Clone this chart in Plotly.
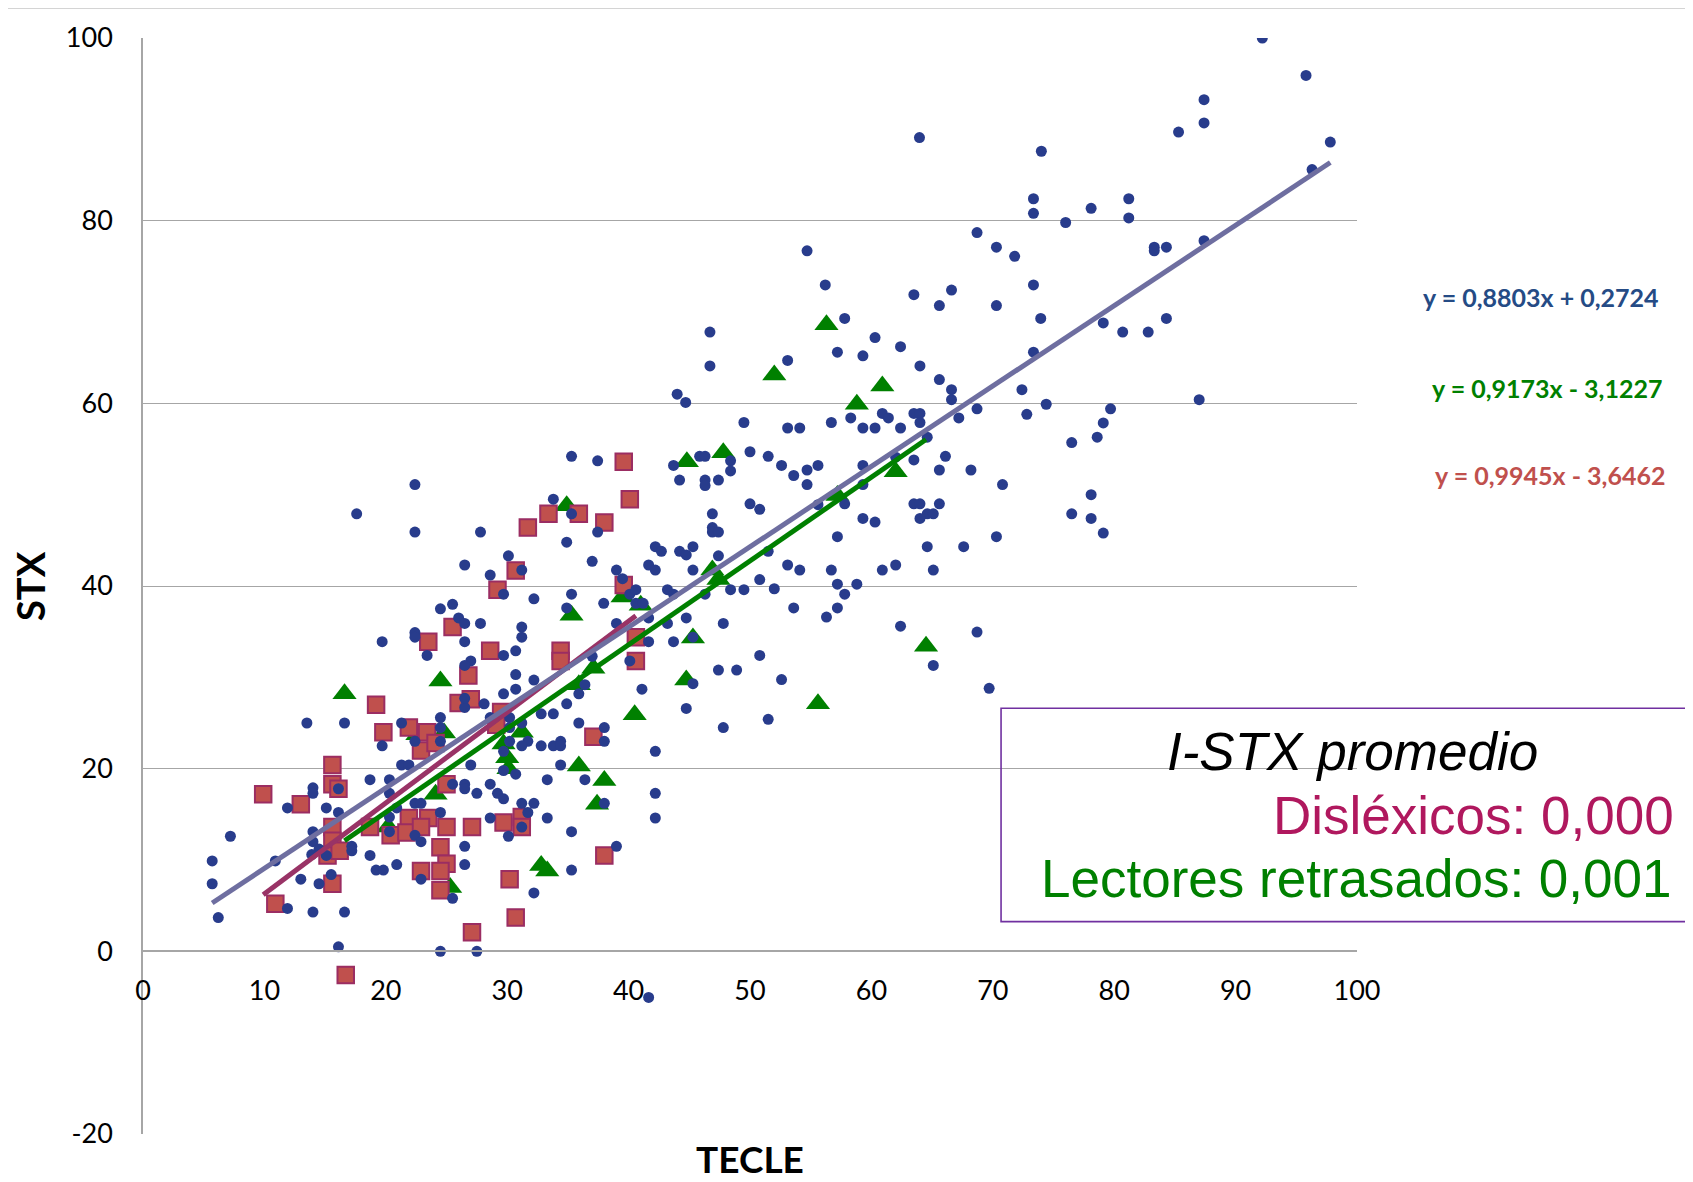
import plotly.graph_objects as go

# ---------------- data ----------------
blue_x = [13.5,16.6,21.3,24.5,26.5,24.5,19.7,22.4,24.5,21.3,21.9,27.0,18.7,20.3,14.0,14.0,16.1,20.3,25.5,26.5,26.5,27.5,11.9,15.1,16.1,22.4,22.9,20.9,20.3,24.5,7.2,14.0,14.0,20.3,22.4,22.9,14.5,17.2,17.2,13.9,15.1,18.7,26.5,5.7,10.9,19.2,19.8,20.9,26.5,5.7,13.0,14.5,15.5,22.9,25.5,6.2,11.9,14.0,16.6,16.1,24.5,27.5,
          28.1,34.9,44.75,28.6,30.2,32.8,33.8,35.9,38.0,47.8,31.2,30.2,30.2,31.7,31.2,32.8,33.8,34.4,34.4,38.0,29.7,42.2,34.4,29.7,30.7,33.3,36.4,28.6,29.2,29.7,31.2,32.2,31.7,38.0,42.2,42.2,28.6,33.3,31.2,30.1,35.3,39.0,35.3,32.2,41.65,
          22.4,17.6,22.4,27.8,26.5,24.5,25.5,26.0,26.5,27.8,19.7,22.4,22.4,26.5,23.4,27.0,26.5,26.5,
          35.3,37.45,43.7,45.85,46.3,48.4,48.4,50.0,49.5,44.2,46.3,46.3,47.4,33.8,35.3,50.0,50.8,46.9,46.9,46.9,47.4,37.45,34.9,42.2,42.7,44.2,44.75,45.3,47.4,30.1,37.0,41.65,42.2,39.0,45.3,39.5,28.6,31.2,29.7,32.2,35.3,34.9,37.95,40.1,40.6,40.6,41.2,43.2,43.7,46.3,48.4,49.5,50.8,31.2,31.2,39.0,41.65,43.2,44.75,47.8,41.65,43.7,45.3,29.7,30.7,37.0,40.1,50.8,30.7,30.7,32.2,29.7,36.4,35.9,41.1,47.4,48.9,45.3,
          46.7,46.7,44.0,44.7,
          57.8,65.6,70.3,73.95,60.3,62.4,57.2,59.3,53.1,64.0,65.6,66.6,66.6,73.35,72.4,74.4,68.7,72.8,67.2,60.9,61.4,63.5,64.0,64.0,58.3,56.7,53.1,54.1,59.3,60.3,62.4,64.6,51.5,52.6,53.6,54.7,55.6,54.7,59.3,59.3,62.0,63.5,66.1,65.6,68.2,70.8,55.6,57.8,63.5,64.0,65.6,64.6,65.1,64.0,59.3,60.3,57.2,64.6,67.6,70.3,51.5,53.1,54.1,56.7,60.9,62.0,65.1,52.0,57.2,58.8,57.8,53.6,57.2,56.3,62.4,68.7,65.1,52.6,69.7,51.5,
          92.2,95.8,87.4,87.4,85.3,97.8,96.3,74.0,81.2,81.2,78.1,76.0,83.3,83.3,84.3,87.4,79.1,80.7,82.8,84.3,87.0,79.7,79.1,78.6,76.5,78.1,76.5,78.1,79.1,
          63.96,73.35,73.35,68.7,70.3,71.8,54.7,56.2,63.5,66.6,73.35]
blue_y = [25.0,25.0,25.0,25.6,26.7,24.5,22.5,23.0,23.0,20.4,20.4,20.4,18.8,18.8,17.9,17.3,17.8,17.3,18.3,18.3,17.8,17.3,15.7,15.7,15.2,16.2,16.2,15.7,14.7,15.2,12.6,13.1,12.0,13.1,12.7,12.0,11.2,11.5,11.0,10.6,10.5,10.5,11.5,9.9,9.9,8.9,8.9,9.5,9.5,7.4,7.9,7.4,8.4,7.9,5.8,3.7,4.7,4.3,4.3,0.5,0.0,0.0,
          27.1,27.1,26.6,25.6,25.6,26.0,26.0,25.0,24.5,24.5,25.0,24.5,23.0,23.0,22.5,22.5,22.5,23.0,22.5,23.0,21.9,21.9,20.4,19.8,19.4,18.8,18.8,18.3,17.3,16.7,16.2,16.2,15.2,16.2,17.3,14.6,14.6,14.6,13.6,12.6,13.1,11.5,8.9,6.4,-5.05,
          51.1,47.9,45.9,45.9,42.3,37.5,38.0,36.5,35.9,35.9,33.9,34.9,34.4,33.9,32.4,31.8,31.3,27.7,
          54.2,53.7,53.2,54.2,54.2,53.7,52.6,54.7,57.9,51.6,51.6,51.0,51.6,49.5,47.9,49.0,48.4,47.9,46.4,45.9,45.9,45.9,44.8,44.3,43.8,43.8,43.4,44.3,43.3,43.3,42.7,42.3,41.75,41.75,41.75,40.8,41.2,41.75,39.1,38.6,39.1,37.6,38.1,39.1,39.6,38.1,38.1,39.6,39.1,39.1,39.6,39.6,40.7,35.5,34.4,35.9,36.5,35.9,36.5,35.9,33.9,33.9,34.4,32.4,32.9,32.3,31.8,32.4,30.3,28.7,29.7,28.2,29.2,28.2,28.7,30.8,30.8,29.3,
          67.8,64.1,61.0,60.1,
          69.3,70.7,70.7,69.3,67.2,66.2,65.6,65.2,64.7,64.1,62.6,61.5,60.4,65.6,61.5,59.9,59.4,58.8,58.4,58.9,58.4,58.9,58.9,57.9,58.4,57.9,57.3,57.3,57.3,57.3,57.3,56.3,54.2,53.2,52.1,52.7,53.2,51.1,53.2,51.1,54.1,53.8,54.2,52.7,52.7,51.1,48.9,49.0,49.0,49.0,49.0,47.9,47.9,47.4,47.4,47.0,45.4,44.3,44.3,45.4,43.8,42.3,41.75,41.75,41.75,42.3,41.75,39.7,40.2,40.2,39.1,37.6,37.6,36.6,35.6,34.95,31.3,29.75,28.8,25.4,
          100.0,95.9,93.25,90.7,89.7,88.6,85.6,87.6,82.4,80.3,81.35,79.8,77.1,76.7,77.1,77.8,68.8,67.8,67.8,69.3,60.4,59.4,57.85,56.3,55.7,50.0,47.9,47.4,45.8,
          89.1,82.4,80.8,78.7,77.1,76.1,76.7,72.96,71.9,72.4,72.96]

red_x = [19.2,19.8,21.9,23.4,22.9,24.1,15.6,15.6,16.1,9.9,13.0,25.0,21.9,23.5,18.7,20.4,21.7,22.9,25.0,27.1,15.6,15.6,15.2,16.2,24.5,25.0,22.9,24.5,15.6,24.5,10.9,27.1,16.7,
         25.5,23.5,26.8,27.0,26.0,
         29.5,29.1,37.1,29.7,31.2,31.2,38.0,30.2,30.7,
         39.6,40.1,33.4,35.9,31.7,38.0,30.7,29.2,39.6,28.6,34.4,34.4,40.6,40.6]
red_y = [27.0,24.0,24.5,24.0,22.0,22.8,20.4,18.3,17.8,17.2,16.1,18.3,14.6,14.6,13.6,12.7,13.0,13.6,13.6,13.6,13.6,12.1,10.5,11.0,11.4,9.6,8.8,8.8,7.4,6.7,5.2,2.1,-2.6,
         35.5,33.9,30.2,27.6,27.2,
         26.2,24.8,23.5,14.1,14.7,13.6,10.5,7.9,3.7,
         53.6,49.5,47.9,47.9,46.4,46.95,41.7,39.6,40.1,32.9,32.9,31.8,34.4,31.8]

green_x = [16.6,24.5,22.6,24.8,24.1,20.2,25.3,40.5,29.7,30.0,30.1,31.2,35.9,38.0,37.4,32.8,33.3,44.8,47.8,34.9,39.5,41.0,35.3,46.9,47.4,45.3,37.1,35.9,44.75,56.3,52.0,60.9,58.8,62.0,57.2,64.5,55.6]
green_y = [28.2,29.6,23.7,23.9,17.2,13.6,7.0,25.9,22.7,21.2,20.0,24.0,20.3,18.7,16.1,9.4,8.8,53.6,54.6,48.8,38.8,37.9,36.8,41.75,40.7,34.3,31.0,29.2,29.7,68.6,63.1,61.9,59.9,52.5,49.9,33.4,27.1]

# trendline equations (as printed on the chart): slope, intercept
fit_blue = [0.8803, 0.2724]
fit_green = [0.9173, -3.1227]
fit_red = [0.9945, -3.6462]

eq_texts = ["y = 0,8803x + 0,2724", "y = 0,9173x - 3,1227", "y = 0,9945x - 3,6462"]
box_texts = ["I-STX promedio", "Disléxicos: 0,000", "Lectores retrasados: 0,001"]
x_ticks = list(range(0, 101, 10))
y_ticks = list(range(-20, 101, 20))
y_tick_text = [str(v) for v in y_ticks]

# ---------------- colours ----------------
C_BLUE = "#283C8C"
C_RED_FILL = "#C0504D"
C_RED_EDGE = "#9B2D62"
C_GREEN = "#008000"
C_BLUE_LINE = "#6E6EA0"
C_RED_LINE = "#993366"
GRID = "#A6A6A6"

def fit_line(xs, fit):
    x0, x1 = min(xs), max(xs)
    return [x0, x1], [fit[0] * x0 + fit[1], fit[0] * x1 + fit[1]]

fig = go.Figure()

fig.add_trace(go.Scatter(x=green_x, y=green_y, mode="markers",
                         marker=dict(symbol="triangle-up", size=21, color=C_GREEN, line=dict(width=0)),
                         showlegend=False))
fig.add_trace(go.Scatter(x=red_x, y=red_y, mode="markers",
                         marker=dict(symbol="square", size=16.5, color=C_RED_FILL,
                                     line=dict(width=2, color=C_RED_EDGE)),
                         showlegend=False))
fig.add_trace(go.Scatter(x=blue_x, y=blue_y, mode="markers",
                         marker=dict(symbol="circle", size=11, color=C_BLUE, line=dict(width=0)),
                         showlegend=False))

for xs, fit, col in [(red_x, fit_red, C_RED_LINE), (green_x, fit_green, C_GREEN), (blue_x, fit_blue, C_BLUE_LINE)]:
    lx, ly = fit_line(xs, fit)
    fig.add_trace(go.Scatter(x=lx, y=ly, mode="lines", line=dict(color=col, width=5),
                             showlegend=False, hoverinfo="skip"))

TICKFONT = dict(family="Lato, Open Sans, sans-serif", size=27, color="#000000")

# the page body has an 8px margin, so the figure is 8px smaller than the window
fig.update_layout(
    width=1685, height=1174,
    margin=dict(l=135, r=336, t=27, b=48),
    paper_bgcolor="white", plot_bgcolor="white",
    xaxis=dict(range=[0, 100], tickvals=x_ticks, showgrid=False, zeroline=False,
               showline=True, linecolor=GRID, linewidth=1.5,
               anchor="free", position=20 / 120, ticks="",
               tickfont=TICKFONT, ticklabelstandoff=16),
    yaxis=dict(range=[-20, 100], tickvals=y_ticks, ticktext=y_tick_text,
               showgrid=True, gridcolor=GRID, gridwidth=1.3,
               zeroline=False, showline=True, linecolor=GRID, linewidth=1.5, ticks="",
               tickfont=TICKFONT, ticklabelstandoff=23),
)

# axis titles
fig.add_annotation(text="<b>TECLE</b>", xref="paper", yref="paper", x=0.5, y=-0.0225,
                   xanchor="center", yanchor="middle", showarrow=False,
                   font=dict(family="Lato, Open Sans, sans-serif", size=37, color="#000000"))
fig.add_annotation(text="<b>STX</b>", xref="paper", yref="paper", x=-0.0931, y=0.5,
                   xanchor="center", yanchor="middle", showarrow=False, textangle=-90,
                   font=dict(family="Lato, Open Sans, sans-serif", size=38, color="#000000"))

# trendline equations
eq_colors = ["#254B85", C_GREEN, C_RED_FILL]
eq_x = [1.1516, 1.1565, 1.1590]
eq_y = [0.7634, 0.6806, 0.6015]
for t, c, xx, yy in zip(eq_texts, eq_colors, eq_x, eq_y):
    fig.add_annotation(text="<b>" + t + "</b>", xref="paper", yref="paper", x=xx, y=yy,
                       xanchor="center", yanchor="middle", showarrow=False,
                       font=dict(family="Lato, Open Sans, sans-serif", size=25, color=c))

# boxed annotation
fig.add_shape(type="rect", xref="paper", yref="paper", x0=0.7068, x1=1.40, y0=0.1938, y1=0.3885,
              line=dict(color="#7030A0", width=1.6), fillcolor="rgba(0,0,0,0)", layer="above")
BOXFONT = "Liberation Sans, Arial, sans-serif"
fig.add_annotation(text="<i>" + box_texts[0] + "</i>", xref="paper", yref="paper", x=0.9967, y=0.3494,
                   xanchor="center", yanchor="middle", showarrow=False,
                   font=dict(family=BOXFONT, size=53, color="#000000"))
fig.add_annotation(text=box_texts[1], xref="paper", yref="paper", x=1.2628, y=0.2903,
                   xanchor="right", yanchor="middle", showarrow=False,
                   font=dict(family=BOXFONT, size=53, color="#B0185E"))
fig.add_annotation(text=box_texts[2], xref="paper", yref="paper", x=1.2611, y=0.2329,
                   xanchor="right", yanchor="middle", showarrow=False,
                   font=dict(family=BOXFONT, size=53, color=C_GREEN))

# faint line at the very top of the slide
fig.add_shape(type="line", xref="paper", yref="paper", x0=-0.12, x1=1.28, y0=1.027, y1=1.027,
              line=dict(color="#D0D0D0", width=1))

fig.write_html("out.html")
